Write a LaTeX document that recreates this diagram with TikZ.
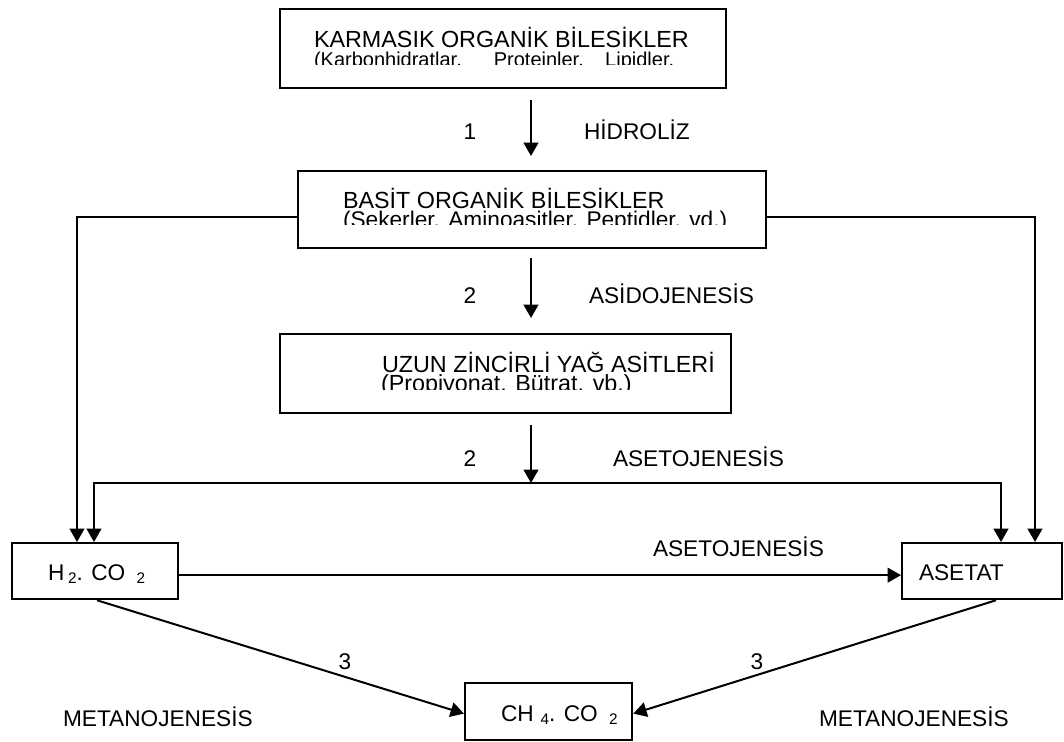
\documentclass[tikz,border=0pt]{standalone}
\usepackage{fontspec}
\setmainfont{Liberation Sans}
\usetikzlibrary{positioning, arrows.meta, calc}
\definecolor{figink}{HTML}{000000}
\newcommand{\altindis}[1]{{\fontsize{11.5}{11.5}\selectfont\raisebox{-2.4pt}{#1}}}

\begin{document}
\begin{tikzpicture}[
  x=0.75pt, y=-0.75pt,
  line width=1.5pt, line join=miter,
  >={Triangle[length=10pt, width=11pt]},
  kutu/.style = {draw=figink, line width=1.7pt, fill=white, inner sep=0pt,
                 anchor=north west},
  yazi/.style = {font=\fontsize{17.5}{17.5}\selectfont, inner sep=0pt,
                 anchor=base west, text=figink},
  etk/.style  = {font=\fontsize{17}{17}\selectfont, inner sep=0pt,
                 anchor=base west, text=figink},
  num/.style  = {font=\fontsize{17}{17}\selectfont, inner sep=0pt,
                 anchor=base, text=figink}
]
\useasboundingbox (0,0) rectangle (1064,742);

% kutular
\node[kutu, minimum width=446*0.75pt, minimum height=79*0.75pt] (karmasik) at (279,8) {};
\node[kutu, minimum width=468*0.75pt, minimum height=77*0.75pt] (basit) at (297,170) {};
\node[kutu, minimum width=451*0.75pt, minimum height=79*0.75pt] (uzun) at (279,333) {};
\node[kutu, minimum width=166*0.75pt, minimum height=56*0.75pt] (hidrojen) at (11,542) {};
\node[kutu, minimum width=160*0.75pt, minimum height=56*0.75pt] (asetat) at (901,542) {};
\node[kutu, minimum width=167*0.75pt, minimum height=57*0.75pt] (metan) at (464,682) {};

% kutu yazilari (alt satirlar kirpik)
\begin{scope}
  \clip (karmasik.north west) rectangle ($(karmasik.north east)+(0,57)$);
  \node[yazi] (karmasik1) at (313,48) {KARMASIK ORGANİK BİLESİKLER};
  \node[yazi, font=\fontsize{15}{15}\selectfont] (karmasik2) at (313,67)
    {(Karbonhidratlar.\hspace{24pt}Proteinler.\hspace{16pt}Lipidler.};
\end{scope}
\begin{scope}
  \clip (basit.north west) rectangle ($(basit.north east)+(0,54)$);
  \node[yazi] (basit1) at (342,208) {BASİT ORGANİK BİLESİKLER};
  \node[yazi, font=\fontsize{17}{17}\selectfont] (basit2) at (342,227) {(Sekerler. Aminoasitler. Peptidler. vd.)};
\end{scope}
\begin{scope}
  \clip (uzun.north west) rectangle ($(uzun.north east)+(0,56)$);
  \node[yazi] (uzun1) at (381,372) {UZUN ZİNCİRLİ YAĞ ASİTLERİ};
  \node[yazi] (uzun2) at (380,391) {(Propiyonat. Bütrat. vb.)};
\end{scope}
\node[etk] (hidrojen1) at (47,580) {H\,\altindis{2}. CO\hspace{0.5em}\altindis{2}};
\node[etk] (asetat1) at (918,580) {ASETAT};
\node[etk] (metan1) at (500,721) {CH\hspace{0.3em}\altindis{4}. CO\hspace{0.5em}\altindis{2}};

% ana oklar
\coordinate (o1a) at (531,100);
\coordinate (o1b) at (531,156);
\coordinate (o2a) at (531,258);
\coordinate (o2b) at (531,318);
\coordinate (o3a) at (531,425);
\coordinate (topla) at (531,483);
\draw[->] (o1a) -- (o1b);
\draw[->] (o2a) -- (o2b);
\draw[->] (o3a) -- (topla);

\node[num] (n1) at (470,139) {1};
\node[etk] (hidroliz) at (583,139) {HİDROLİZ};
\node[num] (n2) at (470,303) {2};
\node[etk] (asidojenesis) at (588,303) {ASİDOJENESİS};
\node[num] (n3) at (470,466) {2};
\node[etk] (asetojenesis1) at (612,466) {ASETOJENESİS};

% yan kollar
\coordinate (sol) at ($(basit.north west)+(0,47)$);
\coordinate (sag) at ($(basit.north east)+(0,47)$);
\draw[->] (sol) -| ($(hidrojen.north west)+(66,0)$);
\draw[->] (sag) -| ($(asetat.north west)+(134,0)$);
\draw[->] (topla) -| ($(hidrojen.north west)+(83,0)$);
\draw[->] (topla) -| ($(asetat.north west)+(100,0)$);

% asetojenesis ve metanojenesis
\draw[->] ($(hidrojen.east)+(0,4)$) -- ($(asetat.west)+(0,4)$);
\node[etk] (asetojenesis2) at (652,556) {ASETOJENESİS};
\draw[->] ($(hidrojen.south west)+(86,0)$) -- ($(metan.west)+(0,2)$);
\draw[->] ($(asetat.south west)+(95,0)$) -- ($(metan.east)+(0,2)$);

\node[num] (n4) at (345,669) {3};
\node[num] (n5) at (757,669) {3};
\node[etk] (metanojenesis1) at (62,726) {METANOJENESİS};
\node[etk] (metanojenesis2) at (818,726) {METANOJENESİS};

\end{tikzpicture}
\end{document}
